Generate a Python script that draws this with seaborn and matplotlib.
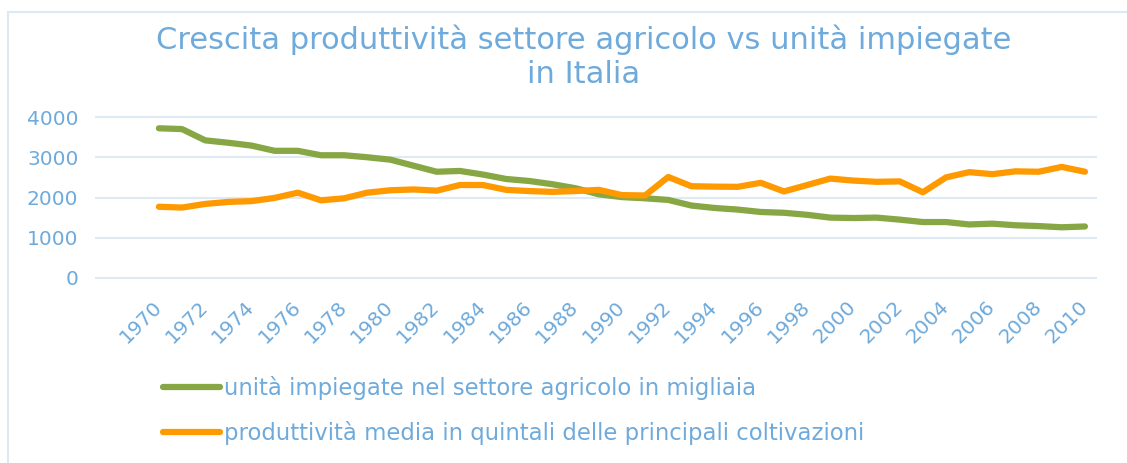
import seaborn as sns
import matplotlib.pyplot as plt
import pandas as pd
from matplotlib.patches import Rectangle

# Data
anni = list(range(1970, 2011))
unita_impiegate = [3720, 3700, 3420, 3360, 3290, 3160, 3160, 3050, 3050, 3000,
                   2940, 2790, 2640, 2660, 2570, 2460, 2410, 2330, 2230, 2080,
                   2010, 1980, 1940, 1800, 1740, 1700, 1640, 1620, 1570, 1500,
                   1490, 1500, 1450, 1390, 1390, 1330, 1350, 1310, 1290, 1260,
                   1280]
produttivita = [1770, 1750, 1840, 1890, 1910, 1990, 2120, 1930, 1980, 2120,
                2180, 2200, 2170, 2310, 2310, 2190, 2160, 2140, 2160, 2190,
                2060, 2050, 2510, 2280, 2270, 2265, 2365, 2150, 2310, 2470,
                2420, 2390, 2400, 2130, 2500, 2630, 2580, 2650, 2640, 2760,
                2640]
y_ticks = [0, 1000, 2000, 3000, 4000]
x_ticks = anni[::2]

label_unita = "unità impiegate nel settore agricolo in migliaia"
label_prod = "produttività media in quintali delle principali coltivazioni"

df = pd.DataFrame({"anno": anni, "unita": unita_impiegate, "prod": produttivita})

sns.set_style("white")
plt.rcParams["font.family"] = ["DejaVu Sans"]

text_col = "#6eaadb"
green = "#86a744"
orange = "#ff9900"
grid_col = "#dfeaf5"

fig = plt.figure(figsize=(11.27, 4.63), dpi=100)
ax = fig.add_axes([95 / 1127, 1 - 280 / 463, 1002 / 1127, 165 / 463])

sns.lineplot(data=df, x="anno", y="unita", ax=ax, color=green, linewidth=4.5,
             label=label_unita, solid_capstyle="round")
sns.lineplot(data=df, x="anno", y="prod", ax=ax, color=orange, linewidth=4.5,
             label=label_prod, solid_capstyle="round")

ax.set_xlim(1970 - 2.76, 2010.52)
ax.set_ylim(-50, 4050)
ax.set_yticks(y_ticks)
ax.set_xticks(x_ticks)
ax.set_xticklabels([str(a) for a in x_ticks], rotation=45, ha="right",
                   rotation_mode="anchor", va="center")
ax.tick_params(axis="both", length=0, colors=text_col, labelsize=14.5)
ax.tick_params(axis="y", pad=12)
ax.tick_params(axis="x", pad=17)
ax.set_xlabel("")
ax.set_ylabel("")
ax.grid(axis="y", color=grid_col, linewidth=1.5)
ax.set_axisbelow(True)
for s in ax.spines.values():
    s.set_visible(False)

leg = ax.legend(loc="upper left", bbox_to_anchor=(163 / 1127, 1 - 376 / 463),
                bbox_transform=fig.transFigure, frameon=False, fontsize=16.4,
                handlelength=2.5, handletextpad=0.18, labelspacing=0.92,
                borderpad=0, borderaxespad=0)
for t in leg.get_texts():
    t.set_color(text_col)

fig.suptitle("Crescita produttività settore agricolo vs unità impiegate\nin Italia",
             x=584 / 1127, y=1 - 57 / 463, va="center", ha="center",
             color=text_col, fontsize=22, linespacing=1.22)

# light chart border (top and left edges visible)
fig.patches.append(Rectangle((8 / 1127, -0.1), 1.2, 1 - 12 / 463 + 0.1,
                             transform=fig.transFigure, fill=False,
                             edgecolor="#dce9f5", linewidth=1.5))

fig.savefig("out.png", dpi=100)
